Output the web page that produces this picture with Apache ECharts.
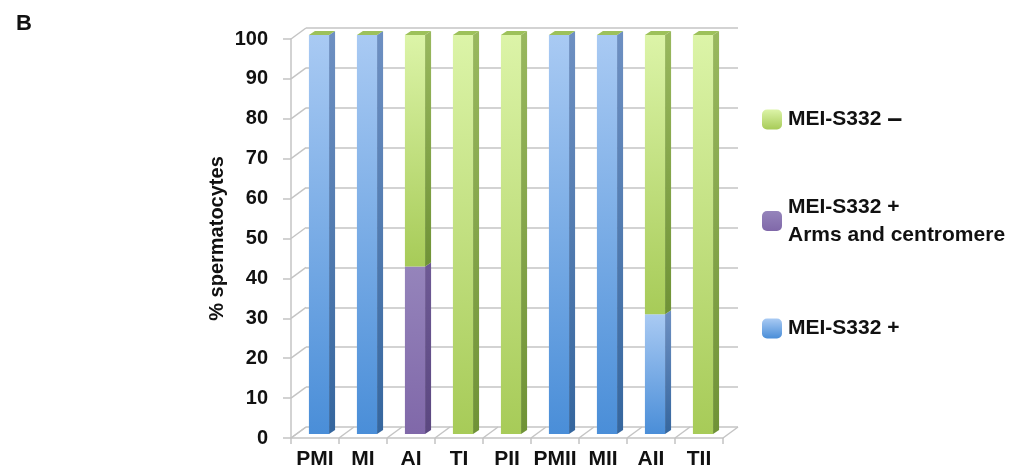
<!DOCTYPE html>
<html>
<head>
<meta charset="utf-8">
<script src="https://cdn.jsdelivr.net/npm/echarts@6/dist/echarts.min.js"></script>
<style>
html, body { margin: 0; padding: 0; background: #fff; }
#main { width: 1013px; height: 471px; }
</style>
</head>
<body>
<div id="main"></div>
<script>
var categories = ['PMI', 'MI', 'AI', 'TI', 'PII', 'PMII', 'MII', 'AII', 'TII'];
var plusValues = [100, 100, 0, 0, 0, 100, 100, 30, 0];
var armsValues = [0, 0, 42, 0, 0, 0, 0, 0, 0];
var minusValues = [0, 0, 58, 100, 100, 0, 0, 70, 100];
var tickValues = [0, 10, 20, 30, 40, 50, 60, 70, 80, 90, 100];

var font = 'Liberation Sans, Arial, sans-serif';
// depth of the wall / floor and of the bars
var wallDx = 15, wallDy = -11;
var barOx = 4, barOy = -4, barDx = 6, barDy = -4;

function grad(c1, c2) {
	return new echarts.graphic.LinearGradient(0, 0, 0, 1, [
		{ offset: 0, color: c1 },
		{ offset: 1, color: c2 }
	]);
}

var styles = {
	plus: { front: ['#a9caf3', '#4a8ed8'], side: ['#6e90c2', '#35669e'], top: '#b8d2f2' },
	arms: { front: ['#9584bb', '#8068a9'], side: ['#6e5a95', '#5b4780'], top: '#a596c6' },
	minus: { front: ['#dcf4a8', '#a7cb58'], side: ['#99b85e', '#6f9236'], top: '#9dc15a' }
};

function stackData(vals, below) {
	var out = [];
	for (var i = 0; i < vals.length; i++) {
		var base = 0;
		for (var k = 0; k < below.length; k++) {
			base += below[k][i];
		}
		out.push([i, vals[i], base]);
	}
	return out;
}

function barRender(st, isTop) {
	return function(params, api) {
		var cat = api.value(0);
		var start = api.value(2);
		var end = start + api.value(1);
		var p0 = api.coord([cat, start]);
		var p1 = api.coord([cat, end]);
		var bandW = api.size([1, 0])[0];
		var w = bandW * 0.42;
		var x = p0[0] - w / 2 + barOx;
		var yb = p0[1] + barOy;
		var yt = p1[1] + barOy;
		var children = [];
		if (yb - yt > 0.01) {
			children.push({
				type: 'rect',
				shape: { x: x, y: yt, width: w, height: yb - yt },
				style: { fill: grad(st.front[0], st.front[1]) }
			});
			children.push({
				type: 'polygon',
				shape: { points: [[x + w, yt], [x + w + barDx, yt + barDy], [x + w + barDx, yb + barDy], [x + w, yb]] },
				style: { fill: grad(st.side[0], st.side[1]) }
			});
		}
		if (isTop) {
			children.push({
				type: 'polygon',
				shape: { points: [[x, yt], [x + barDx, yt + barDy], [x + w + barDx, yt + barDy], [x + w, yt]] },
				style: { fill: st.top }
			});
		}
		return { type: 'group', children: children };
	};
}

var lineStyle = { stroke: '#c4c4c4', lineWidth: 1.5 };

var myChart = echarts.init(document.getElementById('main'));
var option = {
	animation: false,
	title: {
		text: 'B',
		left: 11,
		top: 8,
		textStyle: { fontFamily: font, fontSize: 22, fontWeight: 'bold', color: '#111' }
	},
	legend: [{
		data: ['MEI-S332 -'],
		left: 757,
		top: 101,
		itemWidth: 20,
		itemHeight: 20,
		formatter: function() { return '{a|MEI-S332 }{b|–}'; },
		textStyle: {
			padding: [0, 0, 0, 1],
			rich: {
				a: { fontFamily: font, fontSize: 21, fontWeight: 'bold', color: '#111' },
				b: { fontFamily: font, fontSize: 27, fontWeight: 'bold', color: '#111' }
			}
		}
	}, {
		data: ['MEI-S332 + Arms and centromere'],
		left: 757,
		top: 188,
		itemWidth: 20,
		itemHeight: 20,
		formatter: function() { return 'MEI-S332 +\nArms and centromere'; },
		textStyle: { fontFamily: font, fontSize: 21, fontWeight: 'bold', color: '#111', lineHeight: 28, padding: [0, 0, 0, 1] }
	}, {
		data: ['MEI-S332 +'],
		left: 757,
		top: 313,
		itemWidth: 20,
		itemHeight: 20,
		textStyle: { fontFamily: font, fontSize: 21, fontWeight: 'bold', color: '#111', padding: [0, 0, 0, 1] }
	}],
	grid: [
		{ left: 291, right: 290, top: 39, bottom: 33 },
		{ left: 291 + wallDx, right: 290 - wallDx, top: 39 + wallDy, bottom: 33 - wallDy }
	],
	xAxis: [{
		type: 'category',
		gridIndex: 0,
		data: categories,
		axisLine: { lineStyle: { color: '#c4c4c4', width: 1.5 } },
		axisTick: { show: true, length: 6, lineStyle: { color: '#c4c4c4', width: 1.5 } },
		axisLabel: { interval: 0, margin: 11, fontFamily: font, fontSize: 21, fontWeight: 'bold', color: '#111' }
	}, {
		type: 'category',
		gridIndex: 1,
		data: categories,
		show: false
	}],
	yAxis: [{
		type: 'value',
		gridIndex: 0,
		min: 0,
		max: 100,
		interval: 10,
		name: '% spermatocytes',
		nameLocation: 'middle',
		nameGap: 64,
		nameTextStyle: { fontFamily: font, fontSize: 20, fontWeight: 'bold', color: '#111' },
		axisLine: { show: true, lineStyle: { color: '#c4c4c4', width: 1.5 } },
		axisTick: { show: true, length: 8, lineStyle: { color: '#c4c4c4', width: 1.5 } },
		splitLine: { show: false },
		axisLabel: { margin: 23, fontFamily: font, fontSize: 20, fontWeight: 'bold', color: '#111' }
	}, {
		type: 'value',
		gridIndex: 1,
		min: 0,
		max: 100,
		interval: 10,
		axisLine: { show: false },
		axisTick: { show: false },
		axisLabel: { show: false },
		splitLine: { show: true, lineStyle: { color: '#c4c4c4', width: 1.5 } }
	}],
	series: [{
		type: 'custom',
		name: 'wall',
		xAxisIndex: 0,
		yAxisIndex: 0,
		silent: true,
		data: tickValues.map(function(v) { return [0, v]; }),
		renderItem: function(params, api) {
			var p = api.coord([0, api.value(1)]);
			var x = p[0] - api.size([1, 0])[0] / 2;
			return {
				type: 'line',
				shape: { x1: x, y1: p[1], x2: x + wallDx, y2: p[1] + wallDy },
				style: lineStyle
			};
		}
	}, {
		type: 'custom',
		name: 'floor',
		xAxisIndex: 0,
		yAxisIndex: 0,
		silent: true,
		data: categories.concat(['']).map(function(c, i) { return [i, 0]; }),
		renderItem: function(params, api) {
			var p = api.coord([0, 0]);
			var bw = api.size([1, 0])[0];
			var x = p[0] - bw / 2 + api.value(0) * bw;
			return {
				type: 'line',
				shape: { x1: x, y1: p[1], x2: x + wallDx, y2: p[1] + wallDy },
				style: lineStyle
			};
		}
	}, {
		type: 'custom',
		name: 'MEI-S332 +',
		xAxisIndex: 0,
		yAxisIndex: 0,
		itemStyle: { color: grad(styles.plus.front[0], styles.plus.front[1]) },
		data: stackData(plusValues, []),
		renderItem: barRender(styles.plus, false),
		z: 5
	}, {
		type: 'custom',
		name: 'MEI-S332 + Arms and centromere',
		xAxisIndex: 0,
		yAxisIndex: 0,
		itemStyle: { color: grad(styles.arms.front[0], styles.arms.front[1]) },
		data: stackData(armsValues, [plusValues]),
		renderItem: barRender(styles.arms, false),
		z: 5
	}, {
		type: 'custom',
		name: 'MEI-S332 -',
		xAxisIndex: 0,
		yAxisIndex: 0,
		itemStyle: { color: grad(styles.minus.front[0], styles.minus.front[1]) },
		data: stackData(minusValues, [plusValues, armsValues]),
		renderItem: barRender(styles.minus, true),
		z: 5
	}]
};
myChart.setOption(option);
</script>
</body>
</html>
